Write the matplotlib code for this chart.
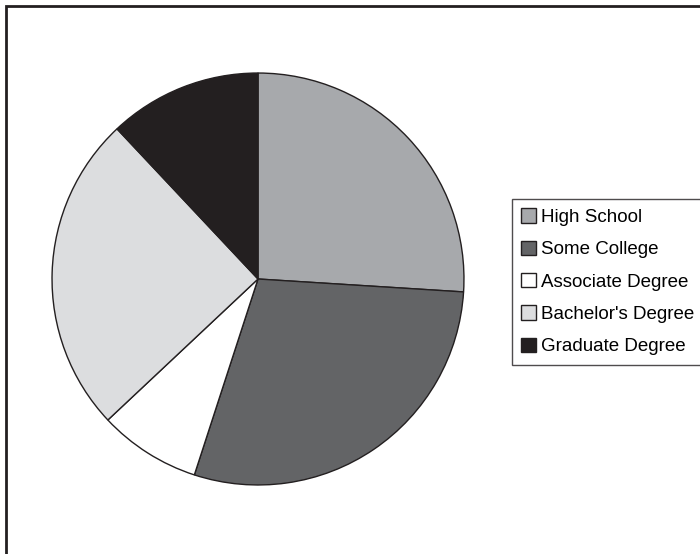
import matplotlib
matplotlib.use("Agg")
import matplotlib.pyplot as plt
from matplotlib.patches import Patch, Rectangle

plt.rcParams['font.family'] = ['Liberation Sans', 'DejaVu Sans']

labels = ["High School", "Some College", "Associate Degree", "Bachelor's Degree", "Graduate Degree"]
shares = [26, 29, 8, 25, 12]
colors = ["#a7a9ac", "#636466", "#ffffff", "#dcdddf", "#231f20"]

W, H = 700, 554
fig = plt.figure(figsize=(W / 100, H / 100), dpi=100)

# outer frame, runs off the right and bottom edges
fig.patches.append(Rectangle((5.5 / W, -0.1), 1.2, 1 - 5.5 / H + 0.1,
                             transform=fig.transFigure, fill=False,
                             edgecolor="#231f20", lw=2))

# pie centre (258, 279) px, radius 207 px
cx, cy, r = 258, 279, 207
ax = fig.add_axes([(cx - r) / W, (H - cy - r) / H, 2 * r / W, 2 * r / H])
ax.pie(shares, colors=colors, startangle=90, counterclock=False, radius=1,
       wedgeprops=dict(edgecolor="#231f20", linewidth=1))
ax.set_xlim(-1.005, 1.005)
ax.set_ylim(-1.005, 1.005)
ax.set_aspect("equal")
ax.axis("off")

handles = [Patch(facecolor=c, edgecolor="#231f20", lw=1) for c in colors]
leg = fig.legend(handles, labels, loc="upper left",
                 bbox_to_anchor=(512 / W, 1 - 199 / H), fontsize=13.5,
                 frameon=True, fancybox=False, handlelength=0.8,
                 handleheight=0.8, handletextpad=0.25, labelspacing=0.78,
                 borderpad=0.5, borderaxespad=0)
leg.get_frame().set_edgecolor("#231f20")
leg.get_frame().set_linewidth(1)

fig.savefig("out.png", dpi=100)
